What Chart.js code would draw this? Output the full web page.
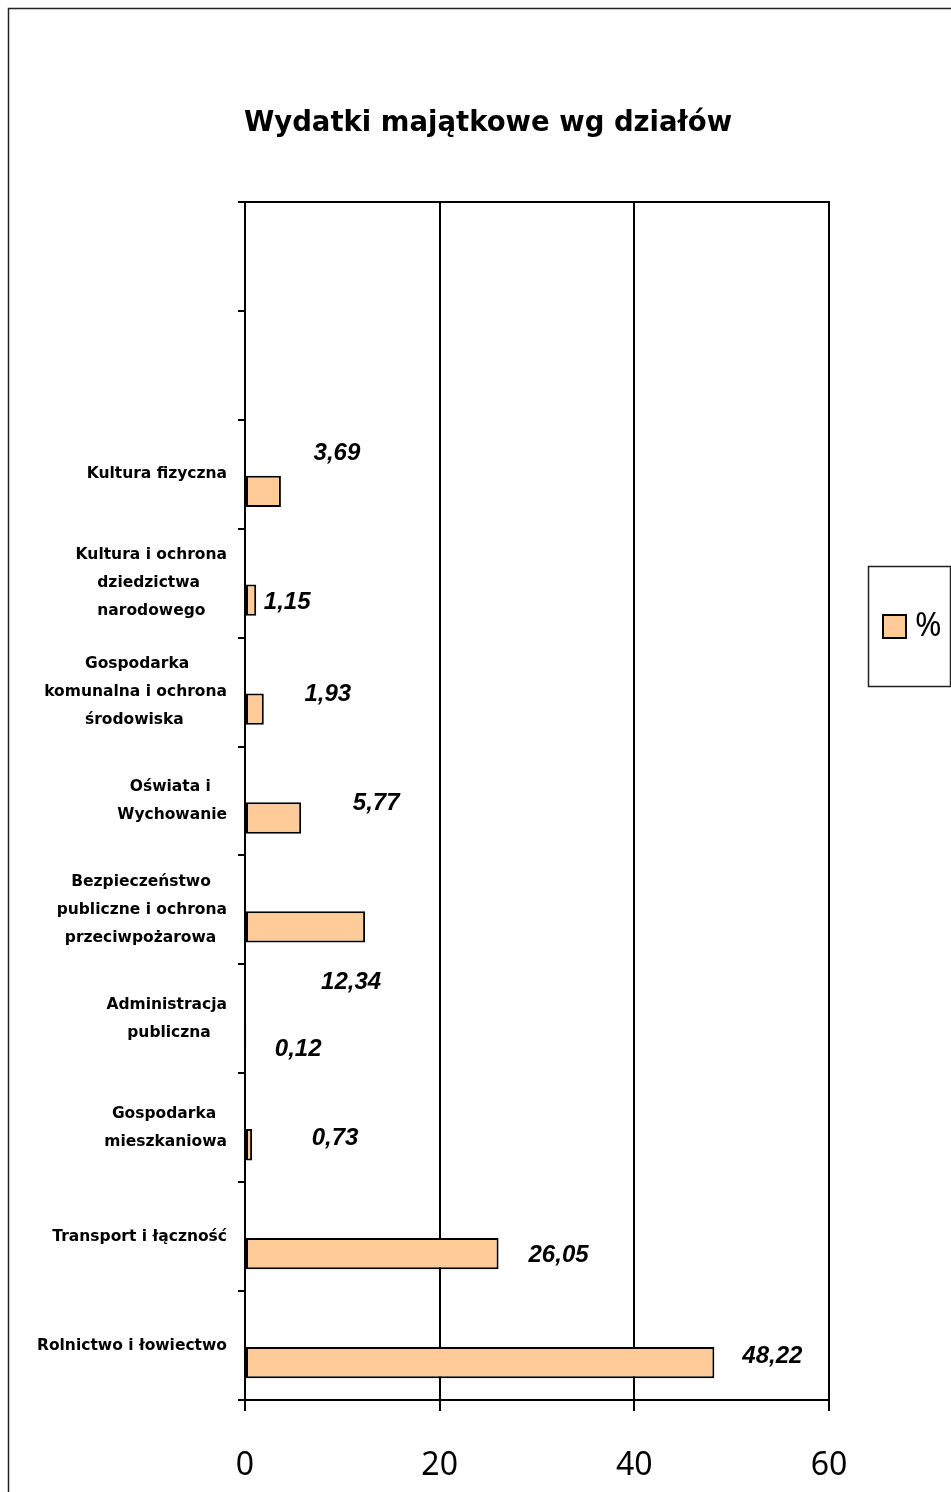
<!DOCTYPE html>
<html>
<head>
<meta charset="utf-8">
<script src="https://cdn.jsdelivr.net/npm/chart.js@4/dist/chart.umd.min.js"></script>
<style>
  html, body { margin: 0; padding: 0; background: #fff; }
  #wrap { width: 951px; height: 1492px; position: relative; }
</style>
</head>
<body>
<div id="wrap"><canvas id="c"></canvas></div>
<script>
// ---- data ----
const TITLE = 'Wydatki majątkowe wg działów';
const SERIES_NAME = '%';
const CATEGORIES = [
  '',
  '',
  'Kultura fizyczna',
  ['Kultura i ochrona', 'dziedzictwa', 'narodowego'],
  ['Gospodarka', 'komunalna i ochrona', 'środowiska'],
  ['Oświata i', 'Wychowanie'],
  ['Bezpieczeństwo', 'publiczne i ochrona', 'przeciwpożarowa'],
  ['Administracja', 'publiczna'],
  ['Gospodarka', 'mieszkaniowa'],
  'Transport i łączność',
  'Rolnictwo i łowiectwo'
];
const VALUES = [null, null, 3.69, 1.15, 1.93, 5.77, 12.34, 0.12, 0.73, 26.05, 48.22];
const X_MIN = 0, X_MAX = 60, X_STEP = 20;

// ---- styling (label nudges as in the original, in px from bar end / bar centre) ----
const LABEL_SHIFT = [
  null, null,
  [56, -38], [31, 2], [64, -15], [75, -15], [-14, 55], [52, 14], [83, -6], [60, 2], [58, -6]
];
const BAR_FILL = '#FFCC99';
const INK = '#000000';
const CAT_FONT = { family: 'DejaVu Sans', size: 15.5, weight: 'bold', lineHeight: 28 / 15.5 };
const CAT_FONT_STR = 'bold 15.5px "DejaVu Sans"';

const measureCtx = document.createElement('canvas').getContext('2d');
function centreLines(label) {
  if (!Array.isArray(label)) return label;
  measureCtx.font = CAT_FONT_STR;
  const w = label.map(l => measureCtx.measureText(l).width);
  const max = Math.max(...w);
  const sp = measureCtx.measureText('\u00a0').width;
  return label.map((l, i) => l + '\u00a0'.repeat(Math.round((max - w[i]) / 2 / sp)));
}

const decor = {
  id: 'decor',
  beforeDraw(chart) {
    const ctx = chart.ctx;
    ctx.save();
    ctx.fillStyle = '#fff';
    ctx.fillRect(0, 0, chart.width, chart.height);
    ctx.strokeStyle = '#222';
    ctx.lineWidth = 1.5;
    ctx.strokeRect(8.5, 8.5, 3000, 3000);
    ctx.restore();
  },
  afterDraw(chart) {
    const ctx = chart.ctx;
    const a = chart.chartArea;
    ctx.save();
    // top frame line of plot area
    ctx.strokeStyle = INK;
    ctx.lineWidth = 2;
    ctx.beginPath();
    ctx.moveTo(a.left - 7, a.top);
    ctx.lineTo(a.right + 1, a.top);
    ctx.stroke();

    // title
    ctx.fillStyle = INK;
    ctx.font = 'bold 27.5px "DejaVu Sans"';
    ctx.textAlign = 'center';
    ctx.textBaseline = 'alphabetic';
    ctx.fillText(TITLE, 488, 131);

    // data labels
    const dsIndex = chart.data.datasets.findIndex(d => d.label === SERIES_NAME);
    const meta = chart.getDatasetMeta(dsIndex);
    ctx.font = 'italic bold 24px "Liberation Sans"';
    ctx.textBaseline = 'middle';
    ctx.textAlign = 'center';
    meta.data.forEach((el, i) => {
      const v = chart.data.datasets[dsIndex].data[i];
      if (v === null || v === undefined) return;
      const s = LABEL_SHIFT[i] || [30, 0];
      ctx.fillText(v.toFixed(2).replace('.', ','), el.x + s[0], el.y + s[1]);
    });

    // legend box
    const ds = chart.data.datasets[dsIndex];
    ctx.strokeStyle = '#222';
    ctx.lineWidth = 1.5;
    ctx.strokeRect(868.5, 566.5, 82, 120);
    ctx.fillStyle = ds.backgroundColor;
    ctx.fillRect(883, 615, 23, 23);
    ctx.strokeStyle = INK;
    ctx.lineWidth = 2;
    ctx.strokeRect(883, 615, 23, 23);
    ctx.fillStyle = INK;
    ctx.font = '32px "Noto Sans"';
    ctx.textAlign = 'left';
    ctx.textBaseline = 'middle';
    ctx.fillText(ds.label, 915, 627);
    ctx.restore();
  }
};

new Chart(document.getElementById('c'), {
  type: 'bar',
  data: {
    labels: CATEGORIES,
    datasets: [
      { label: '', data: CATEGORIES.map(() => null) },
      {
        label: SERIES_NAME,
        data: VALUES,
        backgroundColor: BAR_FILL,
        borderColor: INK,
        borderWidth: 2,
        borderSkipped: false,
        categoryPercentage: 0.625,
        barPercentage: 0.92
      }
    ]
  },
  options: {
    indexAxis: 'y',
    responsive: true,
    maintainAspectRatio: false,
    animation: false,
    layout: { padding: { top: 202, right: 122, bottom: 0, left: 0 } },
    plugins: {
      legend: { display: false },
      title: { display: false },
      tooltip: { enabled: false }
    },
    scales: {
      x: {
        type: 'linear',
        min: X_MIN,
        max: X_MAX,
        afterFit(scale) { scale.height = 92; },
        ticks: {
          stepSize: X_STEP,
          color: INK,
          font: { family: 'Noto Sans', size: 32 },
          padding: 36,
          maxRotation: 0
        },
        grid: { color: INK, lineWidth: 2, tickLength: 11, drawTicks: true },
        border: { display: true, color: INK, width: 2 }
      },
      y: {
        type: 'category',
        offset: true,
        afterFit(scale) { scale.width = 245; },
        ticks: {
          autoSkip: false,
          color: INK,
          font: CAT_FONT,
          padding: 11,
          callback(value) { return centreLines(this.getLabelForValue(value)); }
        },
        grid: { offset: true, drawOnChartArea: false, drawTicks: true, tickLength: 7, color: INK, lineWidth: 2 },
        border: { display: true, color: INK, width: 2 }
      }
    }
  },
  plugins: [decor]
});
</script>
</body>
</html>
